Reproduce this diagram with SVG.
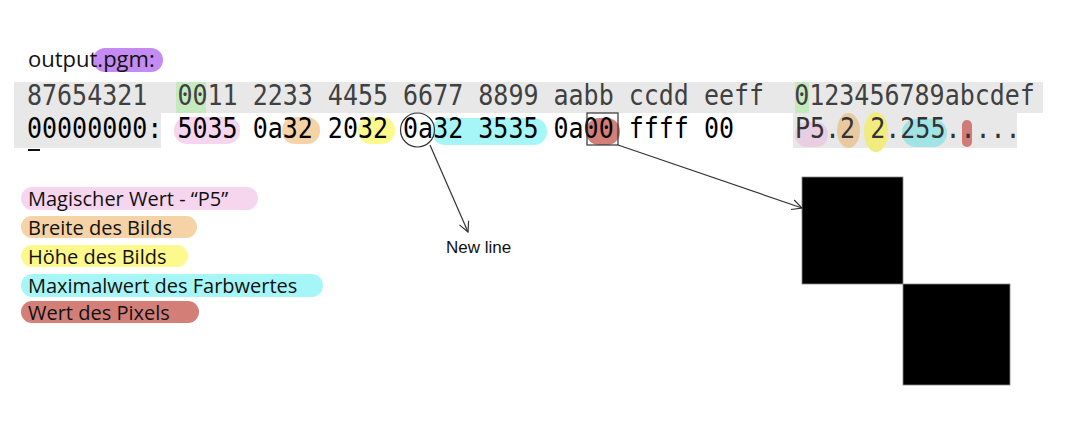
<svg xmlns="http://www.w3.org/2000/svg" width="1067" height="424" viewBox="0 0 1067 424">
<style>
.mono{font-family:"DejaVu Sans Mono","Liberation Mono",monospace;font-size:25px;white-space:pre}
.hdr{fill:#404040}
.hex{fill:#000}
.asc{fill:#333}
.lg{font-family:"Open Sans","Liberation Sans",sans-serif;font-size:20px;fill:#111}
.gray{fill:#e8e8e8}
.pink{fill:#f6d6ee}
.orange{fill:#f5d3a6}
.yellow{fill:#fdf98c}
.cyan{fill:#a6f6f8}
.red{fill:#d47e78}
.green{fill:#c6eac0}
.conn{stroke:#333;stroke-width:1.2;fill:none}
</style>
<defs>
<marker id="open" viewBox="0 0 12 12" refX="11" refY="6" markerWidth="12" markerHeight="12" markerUnits="userSpaceOnUse" orient="auto">
<path d="M1,1 L11,6 L1,11" fill="none" stroke="#333" stroke-width="1.2"/>
</marker>
</defs>
<rect width="1067" height="424" fill="#fff"/>

<g id="title">
<rect x="93" y="48" width="70" height="24" rx="12" fill="#c48cf2"/>
<text x="28" y="67" font-family="Open Sans, Liberation Sans, sans-serif" font-size="22" fill="#111">output.pgm:</text>
</g>

<g id="hexdump">
<rect class="gray" x="14" y="82" width="1029" height="31"/>
<rect class="gray" x="14" y="113" width="147" height="35"/>
<rect class="gray" x="793" y="113" width="224" height="35"/>
<rect class="green" x="176" y="82" width="30" height="31"/>
<rect class="green" x="795" y="82" width="14" height="31"/>
<rect class="pink" x="174" y="117" width="66" height="27" rx="13"/>
<rect class="orange" x="282" y="117" width="38" height="27" rx="13"/>
<rect class="yellow" x="358" y="117" width="37" height="27" rx="13"/>
<rect class="cyan" x="432" y="118" width="115" height="27" rx="13"/>
<rect class="red" x="586" y="118" width="34" height="27" rx="13"/>
<rect x="795" y="122" width="33" height="25" rx="12" fill="#e9cde2"/>
<ellipse cx="848.5" cy="130.5" rx="11.5" ry="17.5" fill="#e9c9a0"/>
<ellipse cx="876" cy="132" rx="12" ry="20" fill="#f0ec80"/>
<rect x="902" y="119" width="45" height="28" rx="14" fill="#a0e4e6"/>
<rect x="962" y="120" width="10" height="27" rx="5" fill="#cf7b76"/>
<g transform="translate(0,105) scale(1,1.1)">
<text class="mono hdr" x="27" y="0" xml:space="preserve">87654321  0011 2233 4455 6677 8899 aabb ccdd eeff  0123456789abcdef</text>
</g>
<g transform="translate(0,138) scale(1,1.1)">
<text class="mono hex" x="27" y="0" xml:space="preserve">00000000: 5035 0a32 2032 0a32 3535 0a00 ffff 00</text>
<text class="mono asc" x="795" y="0" xml:space="preserve">P5.2 2.255.....</text>
</g>
<rect x="28" y="149" width="12" height="2" fill="#111"/>
<circle cx="417.5" cy="130" r="17" fill="none" stroke="#333" stroke-width="1.2"/>
<rect x="587" y="113" width="31" height="32" fill="none" stroke="#333" stroke-width="1.2"/>
</g>

<g id="legend-magic">
<rect class="pink" x="21" y="187" width="237" height="23" rx="11.5"/>
<text class="lg" x="28" y="206">Magischer Wert - “P5”</text>
</g>
<g id="legend-width">
<rect class="orange" x="21" y="216" width="176" height="22" rx="11"/>
<text class="lg" x="28" y="235">Breite des Bilds</text>
</g>
<g id="legend-height">
<rect class="yellow" x="21" y="245" width="167" height="22" rx="11"/>
<text class="lg" x="28" y="264">Höhe des Bilds</text>
</g>
<g id="legend-max">
<rect class="cyan" x="21" y="274" width="302" height="23" rx="11.5"/>
<text class="lg" x="28" y="293">Maximalwert des Farbwertes</text>
</g>
<g id="legend-pixel">
<rect class="red" x="21" y="301" width="178" height="22" rx="11"/>
<text class="lg" x="28" y="320">Wert des Pixels</text>
</g>

<g id="newline-label">
<text x="446" y="253" font-family="Liberation Sans, Arial, sans-serif" font-size="17" fill="#111">New line</text>
</g>

<g id="image">
<rect x="802" y="177" width="101" height="107" fill="#000" stroke="#888" stroke-width="0.8"/>
<rect x="903" y="284" width="107" height="101" fill="#000" stroke="#888" stroke-width="0.8"/>
</g>

<g id="connectors">
<line class="conn" x1="430" y1="145" x2="468" y2="232" marker-end="url(#open)"/>
<line class="conn" x1="618" y1="145" x2="802" y2="208" marker-end="url(#open)"/>
</g>
</svg>
